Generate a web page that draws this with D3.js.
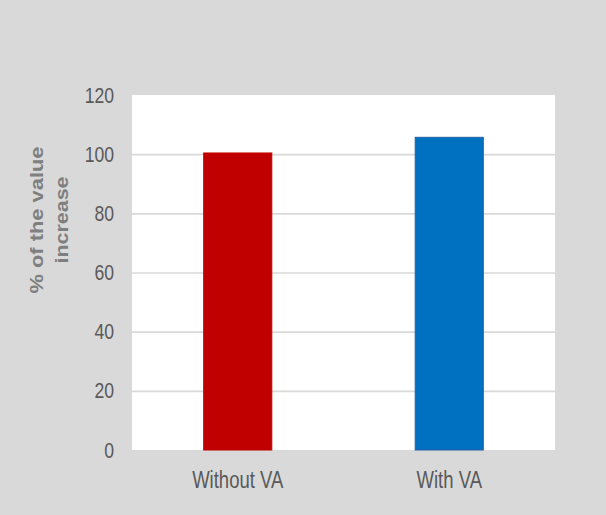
<!DOCTYPE html>
<html>
<head>
<meta charset="utf-8">
<script src="https://cdn.jsdelivr.net/npm/d3@7"></script>
<style>
  html, body { margin: 0; padding: 0; background: #d9d9d9; }
  svg { display: block; }
</style>
</head>
<body>
<svg id="chart" width="606" height="515"></svg>
<script>
const categories = ["Without VA", "With VA"];
const values = [100.4, 105.7];
const barColors = ["#c00000", "#0070c0"];
const barStrokes = ["#c00000", "#2a5fa6"];
const yTicks = [0, 20, 40, 60, 80, 100, 120];
const yTitleLines = ["% of the value", "increase"];

const W = 606, H = 515;
const m = { left: 132, right: 51, top: 95, bottom: 65 };
const svg = d3.select("#chart");

svg.append("rect").attr("x", 0).attr("y", 0).attr("width", W).attr("height", H).attr("fill", "#d9d9d9");

const x = d3.scaleBand().domain(categories)
  .range([m.left, W - m.right])
  .paddingInner(0.678).paddingOuter(0.339);
const y = d3.scaleLinear().domain([0, 120]).range([H - m.bottom, m.top]);

// plot area
svg.append("rect")
  .attr("x", m.left).attr("y", y(120))
  .attr("width", W - m.right - m.left).attr("height", y(0) - y(120))
  .attr("fill", "#ffffff");

// gridlines
const grid = svg.append("g")
  .attr("transform", `translate(${m.left},0)`)
  .call(d3.axisLeft(y).tickValues(yTicks.filter(t => t > 0 && t < 120)).tickSize(-(W - m.right - m.left)).tickFormat(""));
grid.select(".domain").remove();
grid.selectAll("line").attr("stroke", "#d9d9d9").attr("stroke-width", 1.6);

// bars
svg.selectAll("rect.bar").data(categories).join("rect")
  .attr("class", "bar")
  .attr("x", d => x(d))
  .attr("width", x.bandwidth())
  .attr("y", (d, i) => y(values[i]))
  .attr("height", (d, i) => y(0) - y(values[i]))
  .attr("fill", (d, i) => barColors[i])
  .attr("stroke", (d, i) => barStrokes[i])
  .attr("stroke-width", 1);

const fontFam = "'Liberation Sans', Arial, sans-serif";
function narrow(sel, k) {
  sel.each(function () {
    const len = this.getComputedTextLength();
    d3.select(this).attr("textLength", len * k).attr("lengthAdjust", "spacingAndGlyphs");
  });
}

// y axis labels
const ya = svg.append("g")
  .attr("transform", `translate(${m.left},0)`)
  .call(d3.axisLeft(y).tickValues(yTicks).tickSize(0).tickPadding(18));
ya.select(".domain").remove();
ya.selectAll("text")
  .attr("font-family", fontFam)
  .attr("font-size", 22)
  .attr("fill", "#595959")
  .call(narrow, 0.8);

// x axis labels
const xa = svg.append("g")
  .attr("transform", `translate(0,${y(0)})`)
  .call(d3.axisBottom(x).tickSize(0).tickPadding(22));
xa.select(".domain").remove();
xa.selectAll("text")
  .attr("font-family", fontFam)
  .attr("font-size", 23)
  .attr("fill", "#595959")
  .call(narrow, 0.805);

// y title
const yt = svg.append("g")
  .attr("transform", "translate(0,220) rotate(-90)");
yTitleLines.forEach((t, i) => {
  yt.append("text")
    .attr("x", 0)
    .attr("y", 43 + i * 25)
    .attr("text-anchor", "middle")
    .attr("font-family", fontFam)
    .attr("font-weight", "bold")
    .attr("font-size", 18)
    .attr("fill", "#7f7f7f")
    .attr("textLength", i === 0 ? 147 : 87)
    .attr("lengthAdjust", "spacingAndGlyphs")
    .text(t);
});
</script>
</body>
</html>
